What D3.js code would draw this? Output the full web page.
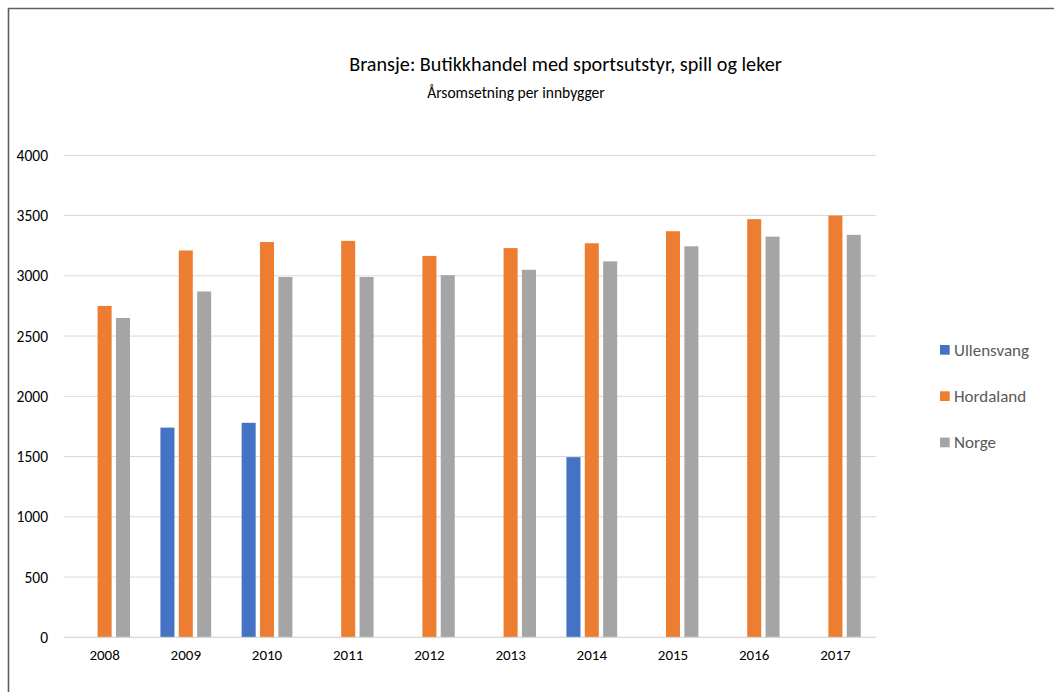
<!DOCTYPE html>
<html>
<head>
<meta charset="utf-8">
<script src="https://cdn.jsdelivr.net/npm/d3@7"></script>
<style>
  html, body { margin: 0; padding: 0; background: #fff; }
  svg { display: block; font-family: Carlito, Lato, "Open Sans", sans-serif; }
</style>
</head>
<body>
<svg id="chart" width="1054" height="692"></svg>
<script>
// Årsomsetning per innbygger, 2008–2017
const years = ["2008", "2009", "2010", "2011", "2012", "2013", "2014", "2015", "2016", "2017"];
const seriesNames = ["Ullensvang", "Hordaland", "Norge"];
const ullensvang = [null, 1740, 1780, null, null, null, 1495, null, null, null];
const hordaland = [2750, 3210, 3280, 3290, 3165, 3230, 3270, 3370, 3470, 3500];
const norge = [2650, 2870, 2990, 2990, 3005, 3050, 3120, 3245, 3325, 3340];
const yTicks = [0, 500, 1000, 1500, 2000, 2500, 3000, 3500, 4000];
const colors = ["#4472C4", "#ED7D31", "#A5A5A5"];

const title = "Bransje: Butikkhandel med sportsutstyr, spill og leker";
const subtitle = "Årsomsetning per innbygger";

const seriesValues = [ullensvang, hordaland, norge];

const svg = d3.select("#chart");
const W = 1054, H = 692;
const plot = { left: 64, right: 876, top: 155.3, bottom: 637.3 };
const FONT = "Carlito, Lato, 'Open Sans', sans-serif";

// frame (top and left edges visible)
svg.append("path")
  .attr("d", `M8.5,${H} L8.5,8.5 L${W},8.5`)
  .attr("fill", "none")
  .attr("stroke", "#5f5f5f")
  .attr("stroke-width", 1.6);

const x0 = d3.scaleBand()
  .domain(years)
  .range([plot.left, plot.right])
  .paddingInner(0.375)
  .paddingOuter(0.1875);

const x1 = d3.scaleBand()
  .domain(seriesNames)
  .range([0, x0.bandwidth()])
  .paddingInner(0.236);

const y = d3.scaleLinear()
  .domain([0, 4000])
  .range([plot.bottom, plot.top]);

// gridlines
svg.append("g")
  .selectAll("line")
  .data(yTicks)
  .join("line")
  .attr("x1", plot.left)
  .attr("x2", plot.right)
  .attr("y1", d => y(d))
  .attr("y2", d => y(d))
  .attr("stroke", "#d9d9d9")
  .attr("stroke-width", 1);

// y axis labels
const yAxis = d3.axisLeft(y).tickValues(yTicks).tickSize(0).tickPadding(0).tickFormat(d3.format("d"));
const gy = svg.append("g")
  .attr("transform", `translate(48,0)`)
  .call(yAxis);
gy.select(".domain").remove();
gy.selectAll("text")
  .attr("font-family", FONT)
  .attr("font-size", 15.5)
  .attr("fill", "#000");

// x axis labels
const xAxis = d3.axisBottom(x0).tickSize(0).tickPadding(0);
const gx = svg.append("g")
  .attr("transform", `translate(0,${plot.bottom + 12})`)
  .call(xAxis);
gx.select(".domain").remove();
gx.selectAll("text")
  .attr("font-family", FONT)
  .attr("font-size", 15)
  .attr("fill", "#000");

// bars
const groups = svg.append("g")
  .selectAll("g")
  .data(years)
  .join("g")
  .attr("transform", d => `translate(${x0(d)},0)`);

groups.selectAll("rect")
  .data((yr, i) => seriesNames.map((s, k) => ({ s, k, v: seriesValues[k][i] })).filter(d => d.v != null))
  .join("rect")
  .attr("x", d => x1(d.s))
  .attr("width", x1.bandwidth())
  .attr("y", d => y(d.v))
  .attr("height", d => y(0) - y(d.v))
  .attr("fill", d => colors[d.k]);

// baseline
svg.append("line")
  .attr("x1", plot.left).attr("x2", plot.right)
  .attr("y1", y(0)).attr("y2", y(0))
  .attr("stroke", "#d9d9d9").attr("stroke-width", 1);

// titles
svg.append("text")
  .attr("x", 565.5)
  .attr("y", 70.5)
  .attr("text-anchor", "middle")
  .attr("font-size", 20.2)
  .attr("fill", "#000")
  .text(title);

svg.append("text")
  .attr("x", 516)
  .attr("y", 98.3)
  .attr("text-anchor", "middle")
  .attr("font-size", 15.5)
  .attr("fill", "#000")
  .text(subtitle);

// legend
const legend = svg.append("g")
  .selectAll("g")
  .data(seriesNames)
  .join("g")
  .attr("transform", (d, i) => `translate(940,${345 + i * 46.3})`);
legend.append("rect")
  .attr("width", 9.7).attr("height", 9.7)
  .attr("fill", (d, i) => colors[i]);
legend.append("text")
  .attr("x", 14)
  .attr("y", 10.5)
  .attr("font-size", 17)
  .attr("fill", "#595959")
  .text(d => d);
</script>
</body>
</html>
